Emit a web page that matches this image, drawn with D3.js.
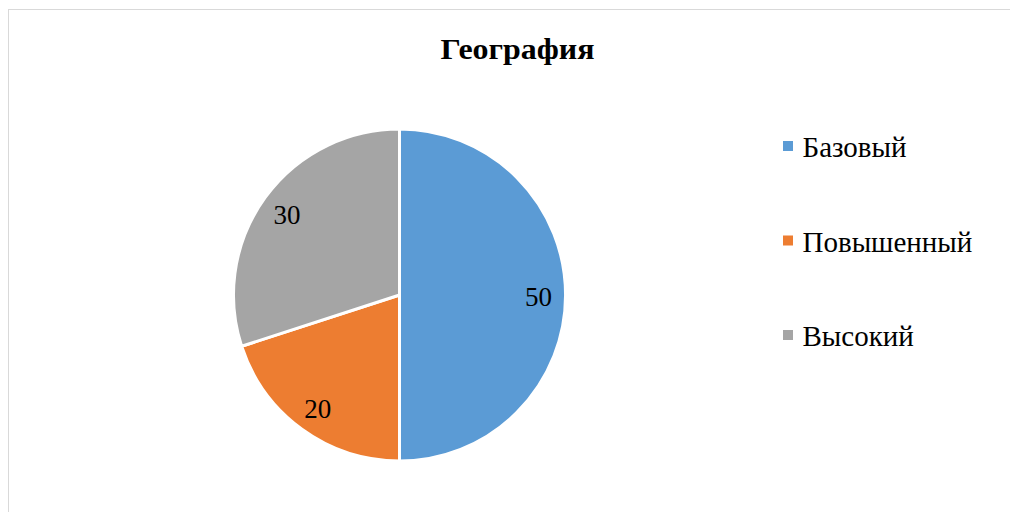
<!DOCTYPE html>
<html><head><meta charset="utf-8">
<script src="https://cdn.jsdelivr.net/npm/d3@7"></script>
</head><body style="margin:0">
<svg id="c" width="1010" height="512"></svg>
<script>
const categories = ["Базовый", "Повышенный", "Высокий"];
const values = [50, 20, 30];
const colors = ["#5B9BD5", "#ED7D31", "#A5A5A5"];
const title = "География";

const svg = d3.select("#c");
const serifFont = "Times New Roman";

// chart border
svg.append("rect").attr("x", 8.5).attr("y", 9.5).attr("width", 1010).attr("height", 520)
  .attr("fill", "#fff").attr("stroke", "#d9d9d9").attr("stroke-width", 1);

svg.append("text").attr("x", 517.5).attr("y", 58.5).attr("text-anchor", "middle")
  .attr("font-family", serifFont)
  .attr("font-weight", "bold").attr("font-size", 30)
  .attr("textLength", 154).attr("lengthAdjust", "spacingAndGlyphs")
  .attr("fill", "#000").text(title);

const cx = 399.5, cy = 295, r = 166;
const data = categories.map((c, i) => ({ cat: c, value: values[i], color: colors[i] }));
const pie = d3.pie().value(d => d.value).sort(null);
const arc = d3.arc().innerRadius(0).outerRadius(r);
const labelArc = d3.arc().innerRadius(139).outerRadius(139);
const g = svg.append("g").attr("transform", `translate(${cx},${cy})`);
const arcs = pie(data);
g.selectAll("path").data(arcs).join("path")
  .attr("d", arc).attr("fill", d => d.data.color)
  .attr("stroke", "#fff").attr("stroke-width", 3).attr("stroke-linejoin", "round");
g.selectAll("text").data(arcs).join("text")
  .attr("transform", d => `translate(${labelArc.centroid(d)})`)
  .attr("text-anchor", "middle").attr("dy", "0.4em")
  .attr("font-family", serifFont)
  .attr("font-size", 27).attr("fill", "#000")
  .text(d => d.data.value);

const ly = d3.scalePoint().domain(categories).range([157, 346]);
const leg = svg.append("g");
leg.selectAll("rect").data(data).join("rect")
  .attr("x", 783).attr("y", d => ly(d.cat) - 16).attr("width", 10).attr("height", 10)
  .attr("fill", d => d.color);
leg.selectAll("text").data(data).join("text")
  .attr("x", 802.5).attr("y", d => ly(d.cat))
  .attr("font-family", serifFont)
  .attr("font-size", 29).attr("fill", "#000")
  .text(d => d.cat);
</script>
</body></html>
